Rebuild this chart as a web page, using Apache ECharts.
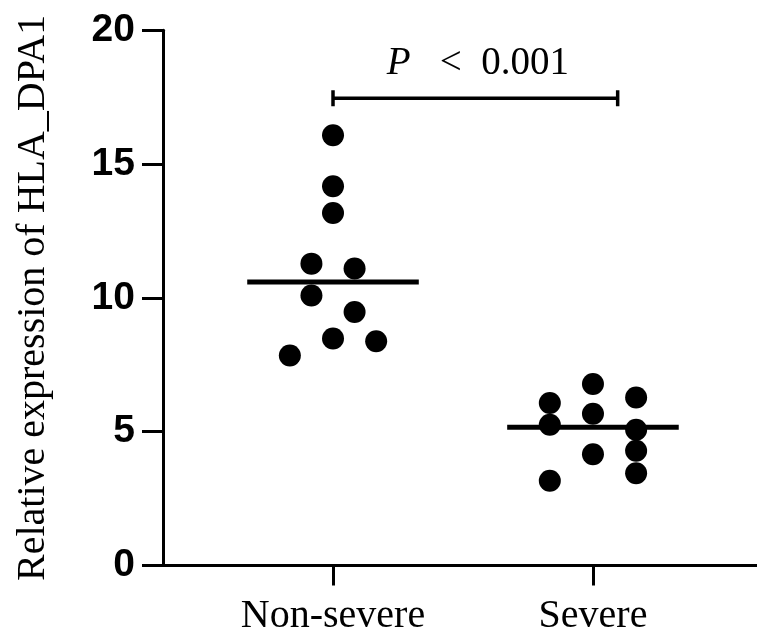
<!DOCTYPE html>
<html>
<head>
<meta charset="utf-8">
<script src="https://cdn.jsdelivr.net/npm/echarts@6/dist/echarts.min.js"></script>
<style>
  html, body { margin: 0; padding: 0; background: #fff; }
  #chart { width: 757px; height: 630px; }
</style>
</head>
<body>
<div id="chart"></div>
<script>
// groups on the x axis (1 and 2)
const categories = ['Non-severe', 'Severe']
// values, with their column slot inside each group
const nonSevereVals = [16.08, 14.17, 13.17, 11.28, 11.10, 10.09, 9.47, 8.48, 8.38, 7.85]
const nonSevereSlot = [0, 0, 0, -1, 1, -1, 1, 0, 2, -2]
const severeVals = [6.07, 5.26, 3.17, 6.78, 5.67, 4.16, 6.28, 5.07, 4.29, 3.45]
const severeSlot = [-2, -2, -2, 0, 0, 0, 2, 2, 2, 2]
const yTicks = [0, 5, 10, 15, 20]
// significance bracket
const sigFrom = 1
const sigTo = 2.095
const sigY = 17.46
const sigP = '0.001'

const slotW = 0.083
const halfLine = 0.33

function median(arr) {
  const s = arr.slice().sort((a, b) => a - b)
  const m = Math.floor(s.length / 2)
  return s.length % 2 ? s[m] : (s[m - 1] + s[m]) / 2
}

function points(vals, slots, pos) {
  return vals.map((v, i) => [pos + slots[i] * slotW, v])
}

function medLine(vals, pos) {
  const m = median(vals)
  return [[pos - halfLine, m], [pos + halfLine, m]]
}

const chart = echarts.init(document.getElementById('chart'))

const serif = 'Liberation Serif, Times New Roman, serif'
const dot = {
  type: 'scatter',
  symbol: 'circle',
  symbolSize: 22,
  itemStyle: { color: '#000', opacity: 1 },
  z: 3
}
const lineBase = {
  type: 'line',
  symbol: 'none',
  silent: true,
  lineStyle: { color: '#000', width: 5 },
  z: 4
}

const option = {
  animation: false,
  backgroundColor: '#fff',
  grid: { left: 163, right: 0, top: 30.3, bottom: 64.5, outerBoundsMode: 'none', containLabel: false },
  xAxis: {
    type: 'value',
    min: 0.346,
    max: 2.631,
    splitLine: { show: false },
    axisLine: { lineStyle: { color: '#000', width: 3 } },
    axisTick: { show: true, customValues: [1, 2], length: 20, lineStyle: { color: '#000', width: 3 } },
    axisLabel: {
      customValues: [1, 2],
      formatter: v => categories[Math.round(v) - 1],
      color: '#000',
      fontFamily: serif,
      fontSize: 40,
      margin: 31
    }
  },
  yAxis: {
    type: 'value',
    min: yTicks[0],
    max: yTicks[yTicks.length - 1],
    interval: 5,
    splitLine: { show: false },
    axisLine: { show: true, lineStyle: { color: '#000', width: 3 } },
    axisTick: { show: true, length: 21, lineStyle: { color: '#000', width: 3 } },
    axisLabel: {
      color: '#000',
      fontFamily: 'Liberation Sans, Arial, sans-serif',
      fontWeight: 'bold',
      fontSize: 39,
      margin: 28
    },
    name: 'Relative expression of HLA_DPA1',
    nameLocation: 'middle',
    nameGap: 110,
    nameTextStyle: {
      color: '#000',
      fontFamily: serif,
      fontSize: 40
    }
  },
  series: [
    Object.assign({ name: categories[0], data: points(nonSevereVals, nonSevereSlot, 1) }, dot),
    Object.assign({ name: categories[1], data: points(severeVals, severeSlot, 2) }, dot),
    Object.assign({ data: medLine(nonSevereVals, 1) }, lineBase),
    Object.assign({ data: medLine(severeVals, 2) }, lineBase),
    {
      type: 'line',
      symbol: 'none',
      silent: true,
      lineStyle: { color: '#000', width: 3.5 },
      data: [
        [sigFrom, sigY - 0.3], [sigFrom, sigY + 0.3], [sigFrom, sigY],
        [sigTo, sigY], [sigTo, sigY + 0.3], [sigTo, sigY - 0.3]
      ]
    },
    {
      type: 'scatter',
      symbolSize: 0,
      silent: true,
      itemStyle: { opacity: 1 },
      data: [[(sigFrom + sigTo) / 2 + 0.01, sigY + 1.3]],
      label: {
        show: true,
        position: 'inside',
        formatter: () => '{i|P}   <  {n|' + sigP + '}',
        rich: {
          i: { fontStyle: 'italic', fontFamily: serif, fontSize: 39, color: '#000' },
          n: { fontFamily: serif, fontSize: 39, color: '#000' }
        },
        color: '#000',
        fontFamily: serif,
        fontSize: 39
      }
    }
  ]
}

chart.setOption(option)
</script>
</body>
</html>
